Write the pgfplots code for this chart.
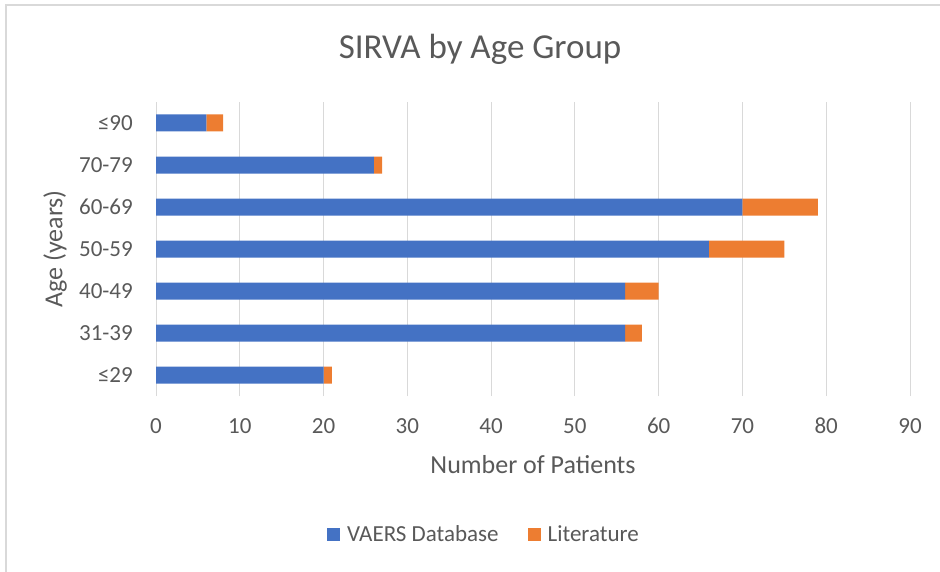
\documentclass[border=0pt]{standalone}
\usepackage{pgfplots}
\pgfplotsset{compat=1.18}
\usepackage{fontspec}
\setmainfont{Carlito}
\definecolor{vblue}{HTML}{4472C4}
\definecolor{lorange}{HTML}{ED7D31}
\definecolor{txt}{HTML}{595959}
\definecolor{grd}{HTML}{D9D9D9}
\begin{document}
\begin{tikzpicture}[x=1pt,y=1pt]
\path[use as bounding box] (0,0) rectangle (940,571);
\draw[grd, line width=1.5pt] (6,-10) -- (6,566) -- (950,566);
\begin{axis}[
  at={(156pt,175pt)}, anchor=south west,
  scale only axis, width=754pt, height=294pt,
  xbar stacked, bar width=17pt,
  xmin=0, xmax=90, ymin=-0.5, ymax=6.5,
  xtick={0,10,...,90},
  ytick={0,...,6},
  yticklabels={≤29,31-39,40-49,50-59,60-69,70-79,≤90},
  /pgf/number format/assume math mode=true,
  axis line style={draw=none},
  axis x line*=bottom, axis y line*=left,
  major tick length=0pt,
  xmajorgrids, grid style={grd, line width=1pt},
  tick label style={text=txt, font=\fontsize{23}{26}\selectfont, inner sep=0pt},
  xticklabel style={anchor=base, yshift=-37pt},
  yticklabel style={anchor=east, xshift=-23pt},
  legend style={draw=none, at={(0.4337,-0.47)}, anchor=center, font=\fontsize{23}{26}\selectfont, text=txt, legend columns=2, inner sep=0pt,
    nodes={inner sep=0pt},
    /tikz/every even column/.append style={column sep=29pt},
    /tikz/every odd column/.append style={column sep=7pt}},
  legend image code/.code={\fill[#1,draw=none] (0pt,-6.5pt) rectangle (13pt,6.5pt);},
  clip=false,
]
\addplot[fill=vblue, draw=none] coordinates {(20,0) (56,1) (56,2) (66,3) (70,4) (26,5) (6,6)};
\addplot[fill=lorange, draw=none] coordinates {(1,0) (2,1) (4,2) (9,3) (9,4) (1,5) (2,6)};
\legend{VAERS Database, Literature}
\draw[grd, line width=1pt] (axis cs:0,-0.5) -- (axis cs:0,6.5);
\end{axis}
\node[text=txt, font=\fontsize{35}{40}\selectfont, anchor=base] at (480,512.5) {SIRVA by Age Group};
\node[text=txt, font=\fontsize{26}{30}\selectfont, anchor=center] at (533,106) {Number of Patients};
\node[text=txt, font=\fontsize{26}{30}\selectfont, anchor=center, rotate=90] at (55,322) {Age (years)};
\end{tikzpicture}
\end{document}
